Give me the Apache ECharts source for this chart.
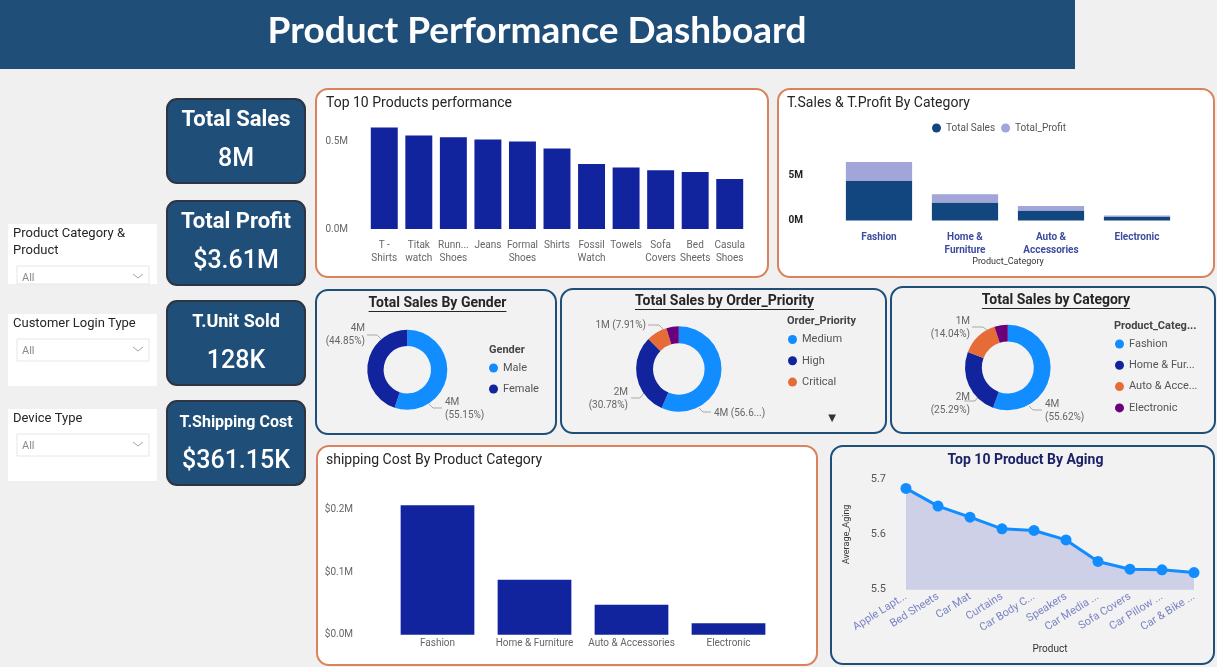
<!DOCTYPE html>
<html><head><meta charset="utf-8">
<script src="https://cdn.jsdelivr.net/npm/echarts@6.0.0/dist/echarts.min.js"></script>
<style>html,body{margin:0;padding:0;background:#f0f0f0;overflow:hidden}#c{width:1217px;height:667px}</style>
</head><body><div id="c"></div>
<script>
// ---------------- DATA ----------------
const dashboardTitle = 'Product Performance Dashboard';
const kpiTitles = ['Total Sales', 'Total Profit', 'T.Unit Sold', 'T.Shipping Cost'];
const kpiValues = ['8M', '$3.61M', '128K', '$361.15K'];
const filterLabels = ['Product Category &\nProduct', 'Customer Login Type', 'Device Type'];
const filterValue = 'All';

const topProducts = ['T - Shirts', 'Titak watch', 'Running Shoes', 'Jeans', 'Formal Shoes', 'Shirts', 'Fossil Watch', 'Towels', 'Sofa Covers', 'Bed Sheets', 'Casula Shoes'];
const topProductSales = [0.580, 0.534, 0.525, 0.511, 0.500, 0.460, 0.372, 0.351, 0.336, 0.326, 0.286]; // millions

const categories = ['Fashion', 'Home & Furniture', 'Auto & Accessories', 'Electronic'];
const categorySales = [4.377, 1.990, 1.105, 0.397];   // millions
const categoryProfit = [2.10, 0.92, 0.50, 0.16];      // millions
const categoryShipping = [0.207, 0.088, 0.048, 0.0185]; // millions

const genders = ['Male', 'Female'];
const genderSales = [4.34, 3.53];

const priorities = ['Medium', 'High', 'Critical', 'Low'];
const prioritySales = [4.454, 2.422, 0.6225, 0.3707];

const agingProducts = ['Apple Lapt...', 'Bed Sheets', 'Car Mat', 'Curtains', 'Car Body C...', 'Speakers', 'Car Media ...', 'Sofa Covers', 'Car Pillow ...', 'Car & Bike ...'];
const agingValues = [5.683, 5.651, 5.631, 5.610, 5.607, 5.590, 5.551, 5.537, 5.536, 5.531];

// ---------------- STYLE ----------------
const C = {
  navy: '#1F4E79', orange: '#D9825B', bg: '#F0F0F0', panelGray: '#F2F2F2',
  lightBlue: '#118DFF', darkBlue: '#12239E', orangeSlice: '#E66C37', purple: '#6B007B',
  sales: '#11477E', profit: '#A1A5D8'
};
const piePalette = [C.lightBlue, C.darkBlue, C.orangeSlice, C.purple];
const FF = 'Roboto';

const G = [];
function rect(x, y, w, h, fill, stroke, lw, r, z) {
  G.push({ type: 'rect', z: z == null ? -10 : z, silent: true, shape: { x, y, width: w, height: h, r: r || 0 },
    style: { fill: fill, stroke: stroke || null, lineWidth: lw || 0 } });
}
function text(t, x, y, font, fill, align, valign, extra) {
  G.push({ type: 'text', z: 10, silent: true,
    style: Object.assign({ text: t, x, y, font, fill, textAlign: align || 'left', textVerticalAlign: valign || 'middle' }, extra || {}) });
}
function poly(points, stroke, lw) {
  G.push({ type: 'polyline', z: 10, silent: true, shape: { points }, style: { stroke, lineWidth: lw || 1, fill: null } });
}
const mctx = document.createElement('canvas').getContext('2d');
function measure(t, font) { mctx.font = font; return mctx.measureText(t).width; }
function underlinedTitle(t, cx, y, font, fill) {
  text(t, cx, y, font, fill, 'center', 'middle');
  const w = measure(t, font);
  poly([[cx - w / 2, y + 8.5], [cx + w / 2, y + 8.5]], fill, 1);
}

// header
rect(0, 0, 1075, 69, C.navy, null, 0, 0);
text(dashboardTitle, 537, 31, 'bold 37px Lato', '#ffffff', 'center');

// KPI cards
const kpiTops = [99, 201, 301, 401];
const kpiTitleFonts = ['bold 22px Roboto', 'bold 22px Roboto', 'bold 18px Roboto', 'bold 16px Roboto'];
kpiTitles.forEach((t, i) => {
  const y = kpiTops[i];
  rect(167, y, 138, 84, C.navy, '#2e3440', 2, 10);
  text(t, 236, y + 21.5, kpiTitleFonts[i], '#ffffff', 'center');
  text(kpiValues[i], 236, y + 60.5, '500 25px Roboto', '#ffffff', 'center');
});

// filter slicers
const filterBoxes = [[224, 60], [314, 72], [409, 72]];
const filterTextY = [225.5, 315.5, 410.5];
const filterDrop = [[266, 18], [339, 22], [434, 22]];
filterLabels.forEach((t, i) => {
  const [by, bh] = filterBoxes[i];
  rect(8, by, 149, bh, '#ffffff', null, 0, 0);
  text(t, 13, filterTextY[i], '13px Roboto', '#252525', 'left', 'top', { lineHeight: 16.6 });
  const [dy, dh] = filterDrop[i];
  rect(17, dy, 132, dh, '#ffffff', '#e6e6e6', 1, 0, -9);
  text(filterValue, 22, dy + 12, '11px Roboto', '#8a8a8a', 'left');
  poly([[133, dy + 8], [138, dy + 12], [143, dy + 8]], '#a5a5a5', 1);
});

// panels
rect(316, 89, 452, 188, '#ffffff', C.orange, 2, 12);
rect(778, 89, 436, 188, '#ffffff', C.orange, 2, 12);
rect(316, 290, 240, 144, C.panelGray, C.navy, 2, 12);
rect(561, 289, 325, 144, C.panelGray, C.navy, 2, 12);
rect(891, 287, 324, 146, C.panelGray, C.navy, 2, 12);
rect(317, 446, 500, 219, '#ffffff', C.orange, 2, 12);
rect(831, 446, 383, 218, C.panelGray, C.navy, 2, 12);

// panel titles
text('Top 10 Products performance', 326, 103.5, '14px Roboto', '#252525');
text('T.Sales & T.Profit By Category', 787, 103.5, '14px Roboto', '#252525');
text('shipping Cost By Product Category', 326, 460.5, '14px Roboto', '#252525');
underlinedTitle('Total Sales By Gender', 437.5, 303, 'bold 14px Roboto', '#252525');
underlinedTitle('Total Sales by Order_Priority', 724.5, 301, 'bold 14px Roboto', '#252525');
underlinedTitle('Total Sales by Category', 1056, 300, 'bold 14px Roboto', '#252525');
text('Top 10 Product By Aging', 1025.5, 460.5, 'bold 14px Roboto', '#1b2266', 'center');

// legend titles
text('Gender', 489, 350, 'bold 11px Roboto', '#444');
text('Order_Priority', 787, 321, 'bold 11px Roboto', '#444');
text('Product_Categ...', 1114, 326, 'bold 11px Roboto', '#444');
text('\u25BC', 832, 418, '10px DejaVu Sans', '#333', 'center');

// ---------------- CHART HELPERS ----------------
function wrapTop(name) {
  const k = name.lastIndexOf(' ');
  if (k < 0) return name;
  let a = name.slice(0, k), b = name.slice(k + 1);
  if (a.length > 6) a = a.slice(0, 4) + '...';
  return a + '\n' + b;
}
function pieLabel(p) {
  return Math.round(p.value) + 'M\n(' + p.percent.toFixed(2) + '%)';
}
function priorityLabel(p) {
  const v = Math.round(p.value) + 'M';
  const pc = p.percent.toFixed(2);
  if (p.dataIndex === 0) return v + ' (' + pc.slice(0, 4) + '...)';
  if (p.dataIndex === 1) return v + '\n(' + pc + '%)';
  return v + ' (' + pc + '%)';
}
function layoutFrom(cfg) {
  return function (params) {
    const c = cfg[params.dataIndex];
    if (!c) return {};
    return { x: c.x, y: c.y, align: c.align, verticalAlign: 'middle', labelLinePoints: c.line };
  };
}
const genderLayout = {
  0: { x: 445, y: 408.5, align: 'left', line: [[442, 408], [433, 408], [429, 404]] },
  1: { x: 365, y: 335, align: 'right', line: [[367, 335], [377, 335], [381, 339]] }
};
const priorityLayout = {
  0: { x: 714, y: 413, align: 'left', line: [[699, 408], [703, 412], [711, 412]] },
  1: { x: 628, y: 399, align: 'right', line: [[631, 398], [640, 398], [644, 393]] },
  2: { x: 646, y: 325, align: 'right', line: [[648, 325], [659, 325], [664, 330]] }
};
const categoryLayout = {
  0: { x: 1045, y: 410.5, align: 'left', line: [[1029, 406], [1033, 410], [1042, 410]] },
  1: { x: 970, y: 403.5, align: 'right', line: [[964, 401], [975, 401], [978, 397]] },
  2: { x: 970, y: 327.5, align: 'right', line: [[972, 327], [983, 327], [987, 330]] }
};
function pieData(names, values, hideIdx) {
  return names.map((n, i) => {
    const d = { name: n, value: values[i], itemStyle: { color: piePalette[i] } };
    if (hideIdx && hideIdx.indexOf(i) >= 0) { d.label = { show: false }; d.labelLine = { show: false }; }
    return d;
  });
}
function pieSeries(name, center, radius, data, formatter, layout) {
  return {
    type: 'pie', name, center, radius, data, avoidLabelOverlap: false, startAngle: 90,
    label: { show: true, position: 'outside', formatter, fontSize: 10, color: '#666', lineHeight: 13, fontFamily: FF },
    labelLine: { show: true, length: 8, length2: 8, lineStyle: { color: '#a8a8a8', width: 1 } },
    labelLayout: layoutFrom(layout),
    emphasis: { disabled: true }
  };
}
const hiddenAxisParts = { axisLine: { show: false }, axisTick: { show: false }, splitLine: { show: false } };
const pieLegendBase = { orient: 'vertical', icon: 'circle', itemWidth: 9, itemHeight: 9, itemGap: 10.3, padding: 0 };

const option = {
  backgroundColor: C.bg,
  animation: false,
  textStyle: { fontFamily: FF },
  graphic: { elements: G },
  grid: [
    { left: 367, top: 124, width: 380, height: 105 },
    { left: 836, top: 157.2, width: 344, height: 63.3 },
    { left: 389, top: 497.2, width: 388, height: 137.5 },
    { left: 906, top: 479, width: 288, height: 110.7 }
  ],
  legend: [
    { data: ['Total Sales', 'Total_Profit'], left: 932, top: 123, icon: 'circle', itemWidth: 9, itemHeight: 9, itemGap: 6,
      padding: 0, textStyle: { fontSize: 10, color: '#555', fontFamily: FF } },
    Object.assign({ data: genders, left: 489, top: 362.5, textStyle: { fontSize: 11, color: '#555', fontFamily: FF } }, pieLegendBase, { itemGap: 10 }),
    Object.assign({ data: priorities.slice(0, 3), left: 788, top: 334, textStyle: { fontSize: 11, color: '#555', fontFamily: FF } }, pieLegendBase),
    Object.assign({ data: categories, left: 1115, top: 338.5,
      textStyle: { fontSize: 11, color: '#555', fontFamily: FF, width: 72, overflow: 'truncate', ellipsis: '...' } }, pieLegendBase)
  ],
  xAxis: [
    Object.assign({ gridIndex: 0, type: 'category', data: topProducts,
      axisLabel: { interval: 0, fontSize: 10, color: '#666', lineHeight: 13, margin: 10, formatter: wrapTop } }, hiddenAxisParts),
    Object.assign({ gridIndex: 1, type: 'category', data: categories,
      name: 'Product_Category', nameLocation: 'middle', nameGap: 37, nameTextStyle: { fontSize: 9, color: '#333' },
      axisLabel: { interval: 0, fontSize: 10, fontWeight: 'bold', color: '#3d4c9e', lineHeight: 13, margin: 10,
        formatter: n => n.replace(' & ', ' &\n') } }, hiddenAxisParts),
    Object.assign({ gridIndex: 2, type: 'category', data: categories,
      axisLabel: { interval: 0, fontSize: 10, color: '#666', margin: 4 } }, hiddenAxisParts),
    Object.assign({ gridIndex: 3, type: 'category', data: agingProducts, boundaryGap: false,
      name: 'Product', nameLocation: 'middle', nameGap: 55, nameTextStyle: { fontSize: 10, color: '#333' },
      axisLabel: { interval: 0, rotate: 32, fontSize: 11, color: '#7b83c4', margin: 6 } }, hiddenAxisParts)
  ],
  yAxis: [
    Object.assign({ gridIndex: 0, type: 'value', min: 0, max: 0.6, interval: 0.5,
      axisLabel: { showMaxLabel: false, fontSize: 10, color: '#666', margin: 19, formatter: v => v.toFixed(1) + 'M' } }, hiddenAxisParts),
    Object.assign({ gridIndex: 1, type: 'value', min: 0, max: 7, interval: 5,
      axisLabel: { showMaxLabel: false, fontSize: 10, fontWeight: 'bold', color: '#222', margin: 33, formatter: v => v + 'M' } }, hiddenAxisParts),
    Object.assign({ gridIndex: 2, type: 'value', min: 0, max: 0.22, interval: 0.1,
      axisLabel: { showMaxLabel: false, fontSize: 10, color: '#666', margin: 36, formatter: v => '$' + v.toFixed(1) + 'M' } }, hiddenAxisParts),
    Object.assign({ gridIndex: 3, type: 'value', min: 5.5, max: 5.7, interval: 0.1,
      name: 'Average_Aging', nameLocation: 'middle', nameGap: 55, nameTextStyle: { fontSize: 9, color: '#333' },
      axisLabel: { fontSize: 11, color: '#555', margin: 20, formatter: v => v.toFixed(1) } }, hiddenAxisParts)
  ],
  series: [
    { type: 'bar', name: 'Top Products', xAxisIndex: 0, yAxisIndex: 0, data: topProductSales, barCategoryGap: '22%',
      itemStyle: { color: C.darkBlue }, emphasis: { disabled: true } },
    { type: 'bar', name: 'Total Sales', xAxisIndex: 1, yAxisIndex: 1, stack: 'sp', data: categorySales, barCategoryGap: '23%',
      itemStyle: { color: C.sales }, emphasis: { disabled: true } },
    { type: 'bar', name: 'Total_Profit', xAxisIndex: 1, yAxisIndex: 1, stack: 'sp', data: categoryProfit, barCategoryGap: '23%',
      itemStyle: { color: C.profit }, emphasis: { disabled: true } },
    { type: 'bar', name: 'Shipping Cost', xAxisIndex: 2, yAxisIndex: 2, data: categoryShipping, barCategoryGap: '24%',
      itemStyle: { color: C.darkBlue }, emphasis: { disabled: true } },
    { type: 'line', name: 'Average_Aging', xAxisIndex: 3, yAxisIndex: 3, data: agingValues,
      symbol: 'circle', symbolSize: 11, itemStyle: { color: C.lightBlue }, lineStyle: { color: C.lightBlue, width: 3 },
      areaStyle: { color: '#cdd0e6', opacity: 1 }, emphasis: { disabled: true } },
    pieSeries('Gender', [407.3, 369.7], [23.7, 40], pieData(genders, genderSales), pieLabel, genderLayout),
    pieSeries('Order_Priority', [678.8, 369], [25.8, 42.7], pieData(priorities, prioritySales, [3]), priorityLabel, priorityLayout),
    pieSeries('Product_Category', [1007.8, 367.5], [26, 42.8], pieData(categories, categorySales, [3]), pieLabel, categoryLayout)
  ]
};

const chart = echarts.init(document.getElementById('c'), null, { renderer: 'canvas', width: 1217, height: 667 });
chart.setOption(option);
</script></body></html>
